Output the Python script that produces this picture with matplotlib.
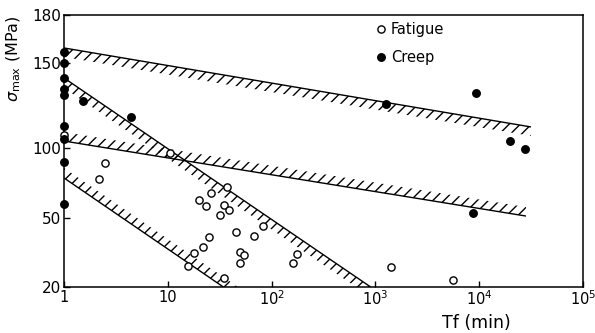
# fatigue vs creep rupture, sigma_max against Tf
# non-uniform stress axis is kept as in the source figure

import numpy as np
import matplotlib
matplotlib.use("Agg")
import matplotlib.pyplot as plt
from matplotlib.ticker import NullLocator

plt.rcParams["font.family"] = ["DejaVu Sans"]
plt.rcParams["hatch.linewidth"] = 1.0

# ------------------------------------------------------------
# Data (Tf in min, sigma_max in MPa)
# ------------------------------------------------------------

fatigue_tf = [1.0, 2.49, 2.18, 10.5, 37.2, 26.2, 20.1, 23.5, 35.0, 38.9,
              31.8, 45.0, 82.8, 67.2, 24.7, 21.8, 17.9, 15.6, 49.2, 53.8,
              50.0, 34.5, 176, 159, 1400, 5560]
fatigue_s = [107.6, 89.3, 77.9, 96.4, 71.9, 67.6, 62.6, 58.6, 59.5, 55.7,
             51.9, 43.9, 46.7, 42.2, 41.6, 37.5, 34.9, 29.3, 35.2, 34.0,
             30.4, 23.9, 34.3, 30.3, 28.7, 23.0]

creep_tf = [1, 1, 1, 1, 1, 1, 1, 1, 1, 1.53, 4.43, 1254, 9300, 19700,
            27600, 8800]
creep_s = [157, 150, 141.2, 134.7, 131.2, 112.9, 105.3, 90, 60, 127.6,
           118.2, 125.9, 132.3, 104.1, 99.3, 53.6]

# scatter bands: end points of the edge line
creep_upper_x = [1, 31500]
creep_upper_y = [159.4, 112.4]
creep_lower_x = [1, 28200]
creep_lower_y = [104.1, 51.4]
fatigue_upper_x = [1, 900]
fatigue_upper_y = [141.2, 20]
fatigue_lower_x = [1, 34.3]
fatigue_lower_y = [78.6, 20]

y_ticks = [20, 50, 100, 150, 180]
x_ticks = [1, 10, 1e2, 1e3, 1e4, 1e5]
x_labels = ["1", "10", "$10^2$", "$10^3$", "$10^4$", "$10^5$"]

# where each y tick sits on the axis (px above the bottom)
Y_POS = [0, 69, 139, 224, 272]


# ------------------------------------------------------------
# Piecewise-linear stress axis (extrapolates past the ends)
# ------------------------------------------------------------

def _pw(v, xp, fp):
    v = np.asarray(v, dtype=float)
    shape = v.shape
    v = np.atleast_1d(v)
    out = np.interp(v, xp, fp)
    lo = v < xp[0]
    hi = v > xp[-1]
    out[lo] = fp[0] + (v[lo] - xp[0]) * (fp[1] - fp[0]) / (xp[1] - xp[0])
    out[hi] = fp[-1] + (v[hi] - xp[-1]) * (fp[-1] - fp[-2]) / (xp[-1] - xp[-2])
    return out.reshape(shape)


def _fwd(v):
    return _pw(v, y_ticks, Y_POS)


def _inv(p):
    return _pw(p, Y_POS, y_ticks)


def hatched_band(ax, xs, ys, side, width_px=9, extend=1.0):
    ax.plot(xs, ys, color="black", lw=1.0, solid_capstyle="butt", zorder=3)
    p = ax.transData.transform(np.column_stack([xs, ys]))
    end = p[0] + (p[1] - p[0]) * extend
    shift = np.array([0.0, side * width_px])
    poly = np.array([p[0], end, end + shift, p[0] + shift])
    d = ax.transData.inverted().transform(poly)
    ax.fill(d[:, 0], d[:, 1], facecolor="none", edgecolor="black",
            hatch="///", linewidth=0, zorder=2)


# ------------------------------------------------------------
# Plot
# ------------------------------------------------------------

fig = plt.figure(figsize=(5.95, 3.33), dpi=100)
ax = fig.add_axes([0.1076, 0.1381, 0.8723, 0.8168])

ax.set_xscale("log")
ax.set_yscale("function", functions=(_fwd, _inv))
ax.set_xlim(1, 1e5)
ax.set_ylim(20, 180)

hatched_band(ax, creep_upper_x, creep_upper_y, side=-1, width_px=9)
hatched_band(ax, creep_lower_x, creep_lower_y, side=1, width_px=9)
hatched_band(ax, fatigue_upper_x, fatigue_upper_y, side=-1, width_px=10, extend=1.3)
hatched_band(ax, fatigue_lower_x, fatigue_lower_y, side=1, width_px=10, extend=1.3)

ax.plot(fatigue_tf, fatigue_s, "o", ms=5.2, mfc="white", mec="black",
        mew=1.0, ls="none", clip_on=False, zorder=4, label="Fatigue")
ax.plot(creep_tf, creep_s, "o", ms=5.4, mfc="black", mec="black",
        ls="none", clip_on=False, zorder=5, label="Creep")

ax.set_xticks(x_ticks)
ax.set_xticklabels(x_labels)
ax.xaxis.set_minor_locator(NullLocator())
ax.set_yticks(y_ticks)
ax.set_yticklabels([str(t) for t in y_ticks])
ax.yaxis.set_minor_locator(NullLocator())
ax.tick_params(direction="in", length=4, width=1.0, labelsize=11, pad=2)
ax.tick_params(axis="x", labelsize=10.5)

for s in ax.spines.values():
    s.set_linewidth(1.1)

ax.set_ylabel(r"$\sigma_{\rm max}$ (MPa)", fontsize=11.5)
ax.yaxis.set_label_coords(-0.08, 0.84)
ax.set_xlabel("Tf (min)", fontsize=12.5)
ax.xaxis.set_label_coords(0.794, -0.1)

ax.legend(loc="upper left", bbox_to_anchor=(0.603, 0.975), frameon=False,
          fontsize=10.5, borderpad=0, borderaxespad=0, handlelength=0.6,
          handletextpad=0.35, labelspacing=0.9)

fig.savefig("out.png", dpi=100)
